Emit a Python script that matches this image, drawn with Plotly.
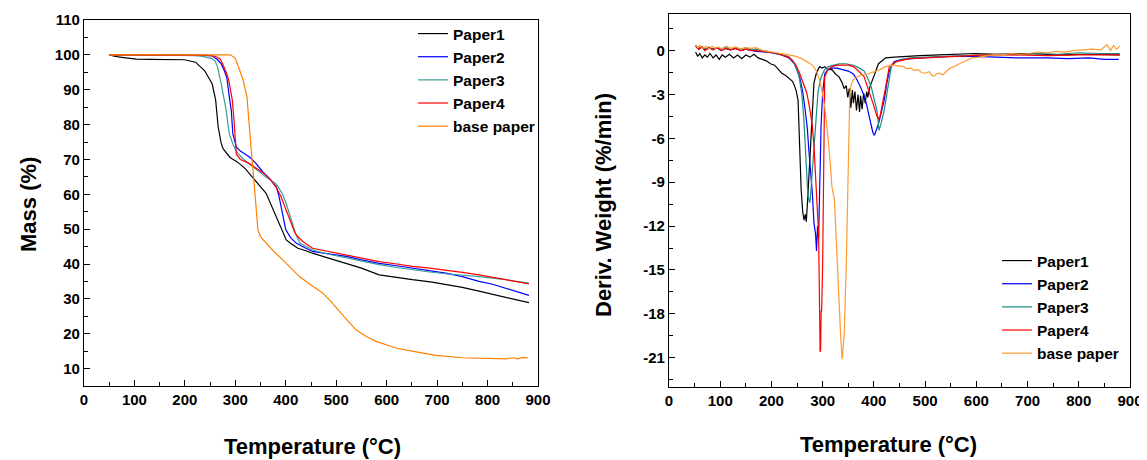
import plotly.graph_objects as go

# ---------------- TGA (left) ----------------
tga_p1_t = [50, 60, 75, 90, 104, 130, 160, 199, 221, 239, 254, 261, 266, 272, 276, 282, 290, 300, 308, 320,
            335, 348, 361, 371, 381, 391, 401, 410, 424, 440, 453, 480, 520, 550, 585, 620, 651, 690, 717, 750,
            783, 820, 850, 882]
tga_p1_m = [100, 99.6, 99.3, 99.0, 98.8, 98.7, 98.7, 98.6, 97.9, 95.5, 91.7, 87.0, 79.3, 74.6, 73.0, 71.8, 70.5, 69.6, 68.8, 67.3,
            64.6, 62.5, 60.3, 57.0, 53.6, 50.0, 46.9, 45.9, 44.5, 43.8, 43.1, 41.9, 40.2, 38.8, 36.9, 36.1, 35.5, 34.8, 34.1, 33.3,
            32.2, 30.9, 29.9, 28.9]

tga_p2_t = [50, 100, 150, 200, 230, 253, 265, 272, 278, 283, 288, 292, 295, 299, 302, 310, 320, 328, 340, 354.6,
            368, 381, 386, 391, 396, 400, 410, 420.5, 435, 453, 485, 520, 550, 585, 620, 651, 685, 717, 750, 783,
            810, 836, 860, 882]
tga_p2_m = [100, 100, 100, 100, 100, 99.8, 98.6, 97.4, 95.5, 93.6, 88, 84, 77.4, 75, 73.6, 72.4, 71.5, 70.7, 69.0, 66.4,
            64.5, 62.2, 59.8, 56.4, 52.5, 49.8, 47.5, 46.0, 44.9, 43.6, 42.9, 42.2, 41.2, 40.2, 39.5, 38.8, 38.1, 37.4, 36.4, 35.0,
            34.2, 33.1, 32.0, 31.0]

tga_p3_t = [50, 100, 150, 200, 230, 253, 260, 265, 272, 279, 282, 285, 288, 295, 302, 315, 330, 345, 360, 381,
            392, 400, 407, 415, 420, 428, 440, 453, 485, 520, 550, 585, 620, 651, 685, 717, 750, 783, 836, 882]
tga_p3_m = [100, 100, 100, 100, 99.7, 99.0, 98.2, 96.5, 91.7, 87, 84, 80.5, 77.4, 74.5, 72.2, 70.2, 68.5, 66.6, 65.0, 63.0,
            60.5, 57.7, 54.5, 50.5, 48.5, 46, 45.0, 44.0, 42.8, 41.7, 40.8, 39.8, 39.0, 38.3, 37.7, 37.2, 36.8, 36.4, 35.5, 34.5]

tga_p4_t = [50, 100, 150, 200, 240, 260, 270, 276, 282, 287, 291, 294, 297, 300, 302, 310, 328, 340, 354.6, 368,
            381, 390, 401, 410, 418, 424, 435, 453, 485, 520, 550, 585, 620, 651, 685, 717, 750, 783, 836, 882]
tga_p4_m = [100, 100, 100, 100, 99.9, 99.6, 98.8, 97.0, 95.0, 92.7, 90, 87, 82, 76, 71.5, 70.0, 68.8, 67.6, 66.2, 64.5,
            62.0, 59.5, 55.5, 52, 49, 47.8, 46.3, 44.5, 43.6, 42.6, 41.7, 40.7, 40.0, 39.3, 38.8, 38.3, 37.6, 36.9, 35.6, 34.3]

tga_base_t = [50, 100, 150, 200, 250, 290, 300, 308.6, 315, 323, 327, 331.6, 335, 338, 341, 344.8, 350, 361, 375, 394,
              410, 427, 450, 473, 488, 500, 520, 539, 560, 579, 600, 618.5, 650, 697.6, 750, 800, 836, 850, 860, 870, 880]
tga_base_m = [100, 100, 100, 100, 100, 100, 99.0, 95.5, 93, 88, 80, 72.6, 67, 61.2, 55.5, 49.8, 47.8, 46.0, 43.8, 41.2,
              39.0, 36.4, 34.0, 31.7, 29.5, 27.4, 24.2, 21.1, 19.2, 17.8, 16.8, 15.9, 15.0, 13.8, 13.1, 12.9, 12.8, 13.1, 12.8, 13.2, 13.1]

# ---------------- DTG (right) ----------------
dtg_p1_t = [52, 56, 60, 65, 70, 75, 80, 86, 92, 98, 104, 110, 118, 126, 134, 142, 150, 158, 166, 174,
            182, 190, 198, 206, 214, 220, 228, 234, 241, 245, 248, 252, 255, 258, 261, 263.6, 266, 268, 271, 276,
            280, 283, 288, 294, 299, 304, 310, 318, 325, 332, 338, 342, 346, 349, 352, 355, 358, 360, 363, 366,
            369, 372, 374, 377, 380, 383, 386, 388, 392, 395, 399, 404, 409, 416, 423, 440, 458, 490, 528, 560,
            598, 640, 700, 760, 820, 880]
dtg_p1_v = [-0.1, -0.4, -0.2, -0.5, -0.3, -0.45, -0.2, -0.5, -0.3, -0.6, -0.3, -0.45, -0.25, -0.5, -0.3, -0.55, -0.3, -0.45, -0.25, -0.5,
            -0.6, -0.7, -0.9, -1.0, -1.3, -1.55, -1.7, -1.9, -2.1, -2.4, -2.7, -3.4, -6.8, -9.5, -11.0, -11.6, -11.2, -11.7, -10.0, -6.6,
            -3.8, -2.2, -1.5, -1.1, -1.2, -1.1, -1.3, -1.3, -1.6, -1.8, -2.2, -2.6, -2.4, -3.2, -2.6, -3.9, -2.7, -3.6, -2.8, -4.1,
            -3.0, -4.2, -3.1, -4.0, -2.9, -3.6, -2.8, -3.2, -2.5, -2.2, -1.8, -1.3, -0.9, -0.7, -0.5, -0.45, -0.4, -0.35, -0.3, -0.25,
            -0.2, -0.25, -0.2, -0.3, -0.25, -0.3]

dtg_p2_t = [52, 58, 64, 70, 78, 86, 94, 102, 110, 120, 130, 140, 150, 160, 170, 178, 190, 206, 220, 234,
            245, 255, 261, 266, 270, 273, 277, 280, 283, 286, 288, 290, 292, 294, 297, 300, 304, 310, 318, 328,
            339, 350, 360, 367, 374, 380, 385, 390, 395, 398, 401, 404, 409, 414, 420, 425, 430, 435, 440, 455,
            470, 493, 520, 550, 598, 640, 680, 738, 780, 820, 850, 878]
dtg_p2_v = [0.3, 0.1, 0.25, 0.05, 0.2, 0.1, 0.2, 0.0, 0.15, 0.05, 0.15, 0.0, 0.1, 0.0, -0.05, -0.07, -0.1, -0.2, -0.3, -0.5,
            -0.9, -1.8, -2.8, -4.1, -5.3, -6.8, -8.5, -9.8, -11.8, -12.5, -13.7, -12.0, -12.9, -9.0, -5.0, -2.9, -1.6, -1.3, -1.2, -1.2,
            -1.3, -1.4, -1.6, -2.0, -2.5, -3.0, -3.6, -4.4, -5.2, -5.6, -5.8, -5.5, -5.0, -4.3, -3.4, -2.3, -1.4, -1.0, -0.75, -0.6,
            -0.55, -0.5, -0.45, -0.4, -0.4, -0.45, -0.5, -0.5, -0.55, -0.5, -0.6, -0.6]

dtg_p3_t = [52, 58, 64, 70, 78, 86, 94, 102, 110, 120, 130, 140, 150, 160, 170, 180, 192, 206, 220, 234,
            241, 248, 254, 259, 263, 266, 269, 271, 273, 275, 277, 280, 284, 287, 291, 297, 304, 311, 320, 332,
            345, 360, 372, 381, 388, 395, 401, 406, 410, 414, 420, 424, 427, 431, 434, 442, 451, 470, 500, 528,
            560, 600, 640, 680, 720, 760, 800, 840, 880]
dtg_p3_v = [0.35, 0.15, 0.3, 0.1, 0.25, 0.05, 0.2, 0.1, 0.25, 0.05, 0.2, 0.1, 0.2, 0.05, 0.1, 0.0, -0.05, -0.15, -0.25, -0.4,
            -0.7, -1.1, -1.8, -2.9, -4.5, -6.6, -8.4, -9.8, -10.2, -10.4, -9.6, -8.0, -6.0, -4.5, -2.8, -1.8, -1.3, -1.1, -1.0, -0.9,
            -0.9, -1.0, -1.2, -1.4, -1.9, -2.5, -3.4, -4.1, -5.45, -5.0, -4.1, -3.2, -2.5, -1.7, -1.1, -0.8, -0.65, -0.5, -0.45, -0.4,
            -0.35, -0.3, -0.25, -0.3, -0.2, -0.25, -0.15, -0.2, -0.2]

dtg_p4_t = [52, 58, 64, 70, 78, 86, 94, 102, 110, 120, 130, 140, 150, 160, 170, 180, 192, 206, 220, 232,
            241, 248, 255, 262, 269, 275, 280, 283, 285, 287, 289, 291, 292, 293, 294, 295, 296, 297, 298, 300,
            301, 302, 303, 304, 310, 318, 328, 339, 350, 360, 370, 381, 388, 395, 401, 406, 409, 412, 416, 420,
            423, 427, 430, 437, 444, 470, 500, 528, 570, 620, 680, 740, 800, 850, 880]
dtg_p4_v = [0.3, 0.1, 0.25, 0.0, 0.2, 0.05, 0.2, 0.0, 0.15, 0.05, 0.15, 0.0, 0.1, 0.0, 0.0, -0.05, -0.1, -0.15, -0.3, -0.45,
            -0.65, -1.0, -1.55, -2.2, -2.9, -4.0, -5.2, -6.5, -8.0, -9.0, -10.3, -11.5, -12.5, -15.0, -17.8, -20.6, -20.5, -17.8, -17.8, -14.5,
            -11.6, -7.0, -3.5, -1.8, -1.3, -1.1, -1.0, -1.0, -1.0, -1.1, -1.4, -1.8, -2.5, -3.2, -3.9, -4.5, -4.65, -4.5, -3.85, -3.2,
            -2.5, -1.7, -1.1, -0.9, -0.75, -0.55, -0.5, -0.45, -0.35, -0.3, -0.3, -0.35, -0.3, -0.3, -0.3]

dtg_base_t = [52, 56, 60, 66, 72, 78, 84, 90, 96, 104, 112, 120, 130, 140, 150, 160, 170, 180, 192, 206,
              220, 234, 248, 259, 269, 276, 283, 289, 294, 299, 304, 308, 311, 315, 318, 323, 328, 332, 335, 338,
              342, 346, 349, 350.5, 352, 353, 356, 360, 367, 374, 388, 402, 412, 423, 430, 437, 447, 458, 465, 472,
              479, 486, 493, 500, 508, 513, 517, 522, 528, 535, 542, 549, 556, 563, 570, 580, 591, 605, 620, 633,
              650, 668, 685, 703, 720, 738, 755, 773, 790, 808, 825, 843, 855, 862, 868, 874, 880]
dtg_base_v = [0.4, 0.2, 0.35, 0.15, 0.3, 0.1, 0.3, 0.15, 0.25, 0.1, 0.3, 0.15, 0.25, 0.1, 0.2, 0.15, 0.2, 0.05, -0.05, -0.1,
              -0.2, -0.3, -0.4, -0.55, -0.75, -0.9, -1.1, -1.5, -2.0, -2.8, -3.85, -5.0, -6.1, -7.8, -9.3, -10.2, -14.3, -17.8, -19.4, -21.1,
              -19.4, -14.8, -10.2, -8.0, -5.0, -2.9, -2.3, -2.0, -1.8, -1.7, -1.6, -1.45, -1.3, -1.1, -1.05, -1.0, -1.05, -1.1, -1.25, -1.2,
              -1.35, -1.3, -1.5, -1.55, -1.45, -1.7, -1.75, -1.6, -1.55, -1.65, -1.4, -1.2, -1.1, -0.95, -0.85, -0.7, -0.5, -0.45, -0.35, -0.3,
              -0.3, -0.2, -0.25, -0.2, -0.1, -0.15, -0.05, -0.1, 0.0, 0.05, 0.1, 0.05, 0.4, 0.0, 0.35, 0.1, 0.3]

names = ["Paper1", "Paper2", "Paper3", "Paper4", "base paper"]
tga_colors = ["#000000", "#0000ff", "#3a9e98", "#ff0000", "#ff8000"]
dtg_colors = ["#000000", "#0000ff", "#1a8c84", "#ff0000", "#ff9a30"]

x_ticks = [0, 100, 200, 300, 400, 500, 600, 700, 800, 900]
mass_ticks = [10, 20, 30, 40, 50, 60, 70, 80, 90, 100, 110]
dtg_ticks = [0, -3, -6, -9, -12, -15, -18, -21]
dtg_labels = ["0", "-3", "-6", "-9", "-12", "-15", "-18", "-21"]

tga = [(tga_p1_t, tga_p1_m), (tga_p2_t, tga_p2_m), (tga_p3_t, tga_p3_m), (tga_p4_t, tga_p4_m), (tga_base_t, tga_base_m)]
dtg = [(dtg_p1_t, dtg_p1_v), (dtg_p2_t, dtg_p2_v), (dtg_p3_t, dtg_p3_v), (dtg_p4_t, dtg_p4_v), (dtg_base_t, dtg_base_v)]
for a, b in tga + dtg:
    assert len(a) == len(b), (len(a), len(b))

# page body has an 8px margin, so the figure is sized/positioned to compensate
OFF = 8
W, H = 1147 - OFF, 460 - OFF
FONT = "Liberation Sans, Arial, sans-serif"

fig = go.Figure()
for (t, m), n, c in zip(tga, names, tga_colors):
    fig.add_trace(go.Scatter(x=t, y=m, name=n, mode="lines", line=dict(color=c, width=1.2),
                             xaxis="x", yaxis="y", legend="legend"))
for (t, v), n, c in zip(dtg, names, dtg_colors):
    fig.add_trace(go.Scatter(x=t, y=v, name=n, mode="lines", line=dict(color=c, width=1.2),
                             xaxis="x2", yaxis="y2", legend="legend2"))

tickfont = dict(family=FONT, size=15, color="black", weight="bold")
axis_common = dict(showline=True, linecolor="black", linewidth=1.3, mirror=True, showgrid=False,
                   zeroline=False, ticks="inside", ticklen=6, tickwidth=1.2, tickcolor="black",
                   tickfont=tickfont, automargin=False)

def px_x(p):
    return (p - OFF) / W

def px_y(p):
    return 1 - (p - OFF) / H

legend_font = dict(family=FONT, size=15.5, color="black", weight="bold")

fig.update_layout(
    template="none",
    width=W, height=H, margin=dict(l=0, r=0, t=0, b=0, pad=0, autoexpand=False),
    paper_bgcolor="white", plot_bgcolor="white",
    xaxis=dict(domain=[px_x(84), px_x(538)], range=[0, 900], tickvals=x_ticks, anchor="y",
               minor=dict(tickvals=[50, 150, 250, 350, 450, 550, 650, 750, 850], ticks="inside", ticklen=3.5,
                          tickcolor="black"),
               **axis_common),
    yaxis=dict(domain=[px_y(386), px_y(20)], range=[5, 110], tickvals=mass_ticks, anchor="x",
               minor=dict(tickvals=[15, 25, 35, 45, 55, 65, 75, 85, 95, 105], ticks="inside", ticklen=3.5,
                          tickcolor="black"),
               **axis_common),
    xaxis2=dict(domain=[px_x(669), px_x(1130)], range=[0, 900], tickvals=x_ticks, anchor="y2",
                minor=dict(tickvals=[50, 150, 250, 350, 450, 550, 650, 750, 850], ticks="inside", ticklen=3.5,
                           tickcolor="black"),
                **axis_common),
    yaxis2=dict(domain=[px_y(387), px_y(14)], range=[-23, 2.5], tickvals=dtg_ticks, ticktext=dtg_labels,
                anchor="x2",
                minor=dict(tickvals=[1.5, -1.5, -4.5, -7.5, -10.5, -13.5, -16.5, -19.5, -22.5], ticks="inside",
                           ticklen=3.5, tickcolor="black"),
                **axis_common),
    legend=dict(x=px_x(413), y=px_y(17), xanchor="left", yanchor="top", bgcolor="rgba(0,0,0,0)",
                font=legend_font, tracegroupgap=0, itemwidth=30, borderwidth=0),
    legend2=dict(x=px_x(997), y=px_y(244), xanchor="left", yanchor="top", bgcolor="rgba(0,0,0,0)",
                 font=legend_font, tracegroupgap=0, itemwidth=30, borderwidth=0),
    showlegend=True,
)

title_font = dict(family=FONT, size=22, color="black", weight="bold")
fig.add_annotation(text="Mass (%)", x=px_x(28), y=px_y(205), xref="paper", yref="paper",
                   showarrow=False, textangle=-90, font=title_font, xanchor="center", yanchor="middle")
fig.add_annotation(text="Deriv. Weight (%/min)", x=px_x(603), y=px_y(205), xref="paper", yref="paper",
                   showarrow=False, textangle=-90, font=title_font, xanchor="center", yanchor="middle")
fig.add_annotation(text="Temperature (°C)", x=px_x(312), y=px_y(446), xref="paper", yref="paper",
                   showarrow=False, font=title_font, xanchor="center", yanchor="middle")
fig.add_annotation(text="Temperature (°C)", x=px_x(888), y=px_y(444), xref="paper", yref="paper",
                   showarrow=False, font=title_font, xanchor="center", yanchor="middle")

fig.write_html("out.html")
